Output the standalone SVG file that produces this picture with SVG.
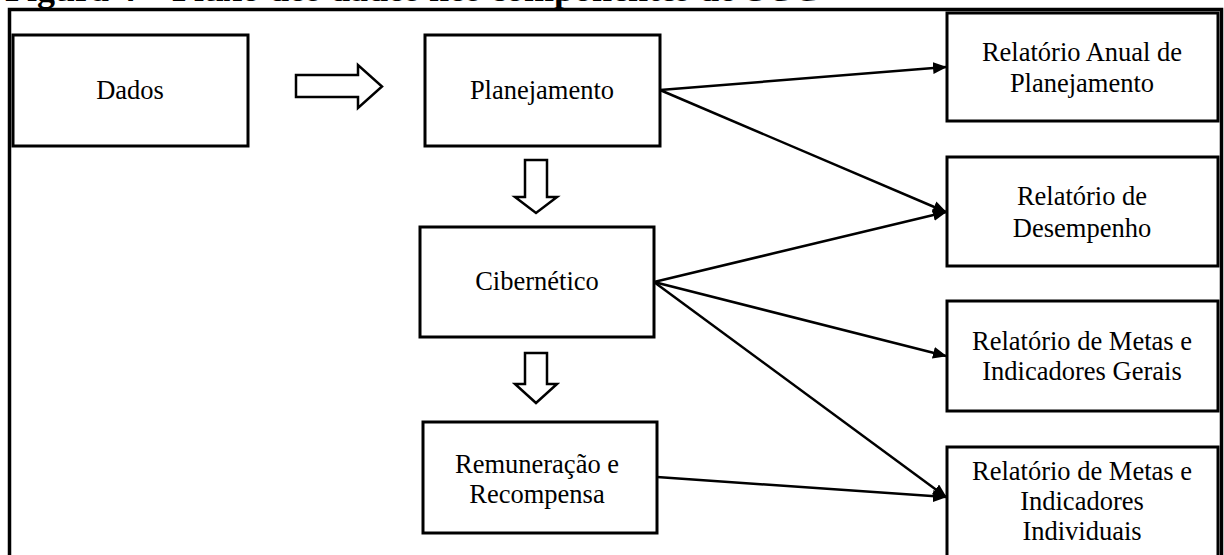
<svg xmlns="http://www.w3.org/2000/svg" width="1224" height="555" viewBox="0 0 1224 555">
  <style>
    .box { fill: #fff; stroke: #000; stroke-width: 3; }
    .lbl { font-family: "Liberation Serif", "Times New Roman", serif; font-size: 26.5px; fill: #000; text-anchor: middle; }
    .title { font-family: "Liberation Serif", "Times New Roman", serif; font-size: 36px; font-weight: bold; fill: #000; }
    .edge { fill: none; stroke: #000; stroke-width: 2.5; marker-end: url(#ah); }
    .block { fill: #fff; stroke: #000; stroke-width: 2.5; stroke-linejoin: miter; }
  </style>
  <defs>
    <marker id="ah" markerUnits="userSpaceOnUse" markerWidth="14" markerHeight="12" refX="13" refY="6" orient="auto">
      <path d="M0,0 L14,6 L0,12 z" fill="#000"/>
    </marker>
  </defs>
  <rect width="1224" height="555" fill="#fff"/>
  <text class="title" x="5" y="1">Figura 4 – Fluxo dos dados nos componentes do SCG</text>
  <path d="M9.5,570 V9.5 H1221.5 V570" fill="none" stroke="#000" stroke-width="3.5"/>

  <g id="dados"><rect class="box" x="13" y="35" width="235" height="111"/><text class="lbl" x="130" y="99">Dados</text></g>
  <g id="planejamento"><rect class="box" x="425" y="35" width="235" height="111"/><text class="lbl" x="542" y="99">Planejamento</text></g>
  <g id="cibernetico"><rect class="box" x="420" y="227" width="234" height="110"/><text class="lbl" x="537" y="290">Cibernético</text></g>
  <g id="remuneracao"><rect class="box" x="423" y="422" width="234" height="111"/><text class="lbl" x="537" y="473">Remuneração e</text><text class="lbl" x="537" y="503">Recompensa</text></g>

  <g id="rel-anual"><rect class="box" x="947" y="13" width="271" height="108"/><text class="lbl" x="1082" y="61">Relatório Anual de</text><text class="lbl" x="1082" y="92">Planejamento</text></g>
  <g id="rel-desempenho"><rect class="box" x="947" y="157" width="271" height="109"/><text class="lbl" x="1082" y="205">Relatório de</text><text class="lbl" x="1082" y="237">Desempenho</text></g>
  <g id="rel-gerais"><rect class="box" x="947" y="301" width="271" height="110"/><text class="lbl" x="1082" y="350">Relatório de Metas e</text><text class="lbl" x="1082" y="380">Indicadores Gerais</text></g>
  <g id="rel-individuais"><rect class="box" x="947" y="447" width="271" height="120"/><text class="lbl" x="1082" y="480">Relatório de Metas e</text><text class="lbl" x="1082" y="510">Indicadores</text><text class="lbl" x="1082" y="540">Individuais</text></g>

  <g id="connectors">
    <path class="block" d="M296,75 H358 V65 L382,86.5 L358,108 V97 H296 Z"/>
    <path class="block" d="M525,160 H547 V197 H557 L536,213 L515,197 H525 Z"/>
    <path class="block" d="M525,353 H547 V384 H557 L536,403 L515,384 H525 Z"/>
    <line class="edge" x1="660" y1="90" x2="946" y2="67"/>
    <line class="edge" x1="660" y1="90" x2="946" y2="212"/>
    <line class="edge" x1="654" y1="282" x2="946" y2="212"/>
    <line class="edge" x1="654" y1="282" x2="946" y2="356"/>
    <line class="edge" x1="654" y1="282" x2="946" y2="497"/>
    <line class="edge" x1="657" y1="477" x2="946" y2="497"/>
  </g>
</svg>
